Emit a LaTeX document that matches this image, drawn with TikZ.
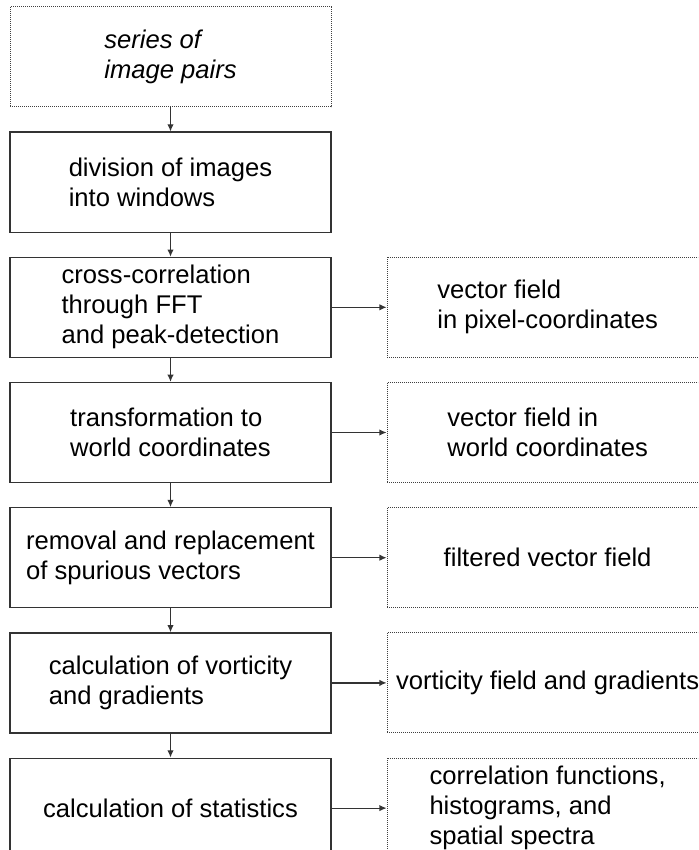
\documentclass[tikz,border=0pt]{standalone}
\usepackage{fontspec}
\setmainfont{Liberation Sans}
\usetikzlibrary{positioning,arrows.meta}
\tikzstyle{stage}=[draw=black!80, line width=0.6pt, minimum width=160.5pt, minimum height=50pt, inner sep=0pt, align=left]
\tikzstyle{result}=[stage, draw=black!75, line width=0.5pt, dash pattern=on 0.5pt off 0.5pt]
\tikzstyle{flow}=[-{Latex[length=3.6pt,width=3.2pt]}, black!80, line width=0.6pt]
\newcommand{\boxfont}{\fontsize{12.8}{15}\selectfont}

\begin{document}
\begin{tikzpicture}[font=\boxfont]
  \useasboundingbox (0,0) rectangle (349pt,-425pt);
  \clip (0,0) rectangle (349pt,-425pt);
  % processing chain
  \node[result, font=\boxfont\itshape] (pairs) at (85.25pt,-28.5pt) {series of\\image pairs};
  \node[stage, below=12pt of pairs] (split) {division of images\\into windows};
  \node[stage, below=12pt of split] (xcorr) {cross-correlation\\through FFT\\and peak-detection};
  \node[stage, below=12pt of xcorr] (world) {transformation to\\world coordinates};
  \node[stage, below=12pt of world] (filter) {removal and replacement\\of spurious vectors};
  \node[stage, below=12pt of filter] (vort) {calculation of vorticity\\and gradients};
  \node[stage, below=12pt of vort] (stats) {calculation of statistics};
  % outputs
  \node[result, right=27.5pt of xcorr] (pixfield) {vector field\\in pixel-coordinates};
  \node[result, right=27.5pt of world] (worldfield) {vector field in\\world coordinates};
  \node[result, right=27.5pt of filter] (filtfield) {filtered vector field};
  \node[result, right=27.5pt of vort] (vortfield) {vorticity field and gradients};
  \node[result, right=27.5pt of stats] (spectra) {correlation functions,\\histograms, and\\spatial spectra};
  \foreach \a/\b in {pairs/split, split/xcorr, xcorr/world, world/filter, filter/vort, vort/stats}
    \draw[flow] (\a) -- (\b);
  \foreach \a/\b in {xcorr/pixfield, world/worldfield, filter/filtfield, vort/vortfield, stats/spectra}
    \draw[flow] (\a) -- (\b);
\end{tikzpicture}
\end{document}
